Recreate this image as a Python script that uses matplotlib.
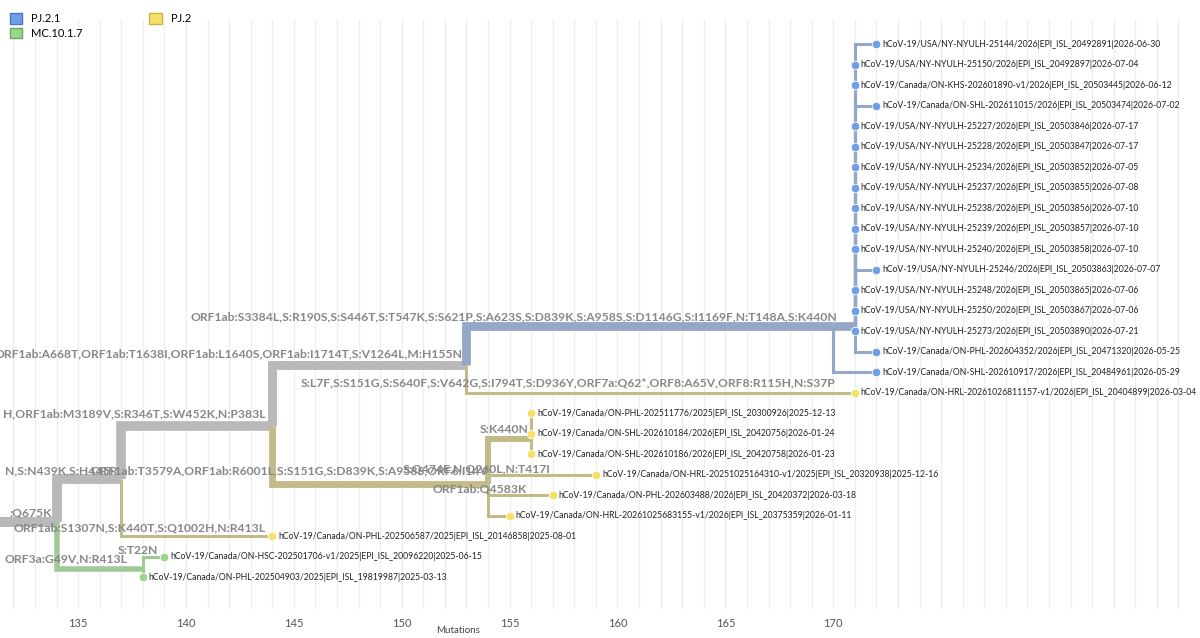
import matplotlib
matplotlib.use("Agg")
import matplotlib.pyplot as plt
from matplotlib.patches import Patch
import numpy as np

plt.rcParams['font.family'] = ['Lato', 'DejaVu Sans']

# tree nodes: name, parent, divergence, row, clade
node_names = ["root", "n134", "n137", "g138", "n144", "n153", "n154", "n156", "n170", "n171"]
node_parent = [None, "root", "n134", "n134", "n137", "n144", "n144", "n154", "n153", "n170"]
node_div = [131.0, 134, 137, 138, 144, 153, 154, 156, 170, 171]
node_row = [23.3, 23.3, 21.2, 25.6, 18.6, 15.66, 21.46, 19.27, 13.75, 13.75]
node_clade = ["base", "base", "base", "MC.10.1.7", "base", "base", "PJ.2", "PJ.2", "PJ.2.1", "PJ.2.1"]

tip_names = [
    "hCoV-19/USA/NY-NYULH-25144/2026|EPI_ISL_20492891|2026-06-30",
    "hCoV-19/USA/NY-NYULH-25150/2026|EPI_ISL_20492897|2026-07-04",
    "hCoV-19/Canada/ON-KHS-202601890-v1/2026|EPI_ISL_20503445|2026-06-12",
    "hCoV-19/Canada/ON-SHL-202611015/2026|EPI_ISL_20503474|2026-07-02",
    "hCoV-19/USA/NY-NYULH-25227/2026|EPI_ISL_20503846|2026-07-17",
    "hCoV-19/USA/NY-NYULH-25228/2026|EPI_ISL_20503847|2026-07-17",
    "hCoV-19/USA/NY-NYULH-25234/2026|EPI_ISL_20503852|2026-07-05",
    "hCoV-19/USA/NY-NYULH-25237/2026|EPI_ISL_20503855|2026-07-08",
    "hCoV-19/USA/NY-NYULH-25238/2026|EPI_ISL_20503856|2026-07-10",
    "hCoV-19/USA/NY-NYULH-25239/2026|EPI_ISL_20503857|2026-07-10",
    "hCoV-19/USA/NY-NYULH-25240/2026|EPI_ISL_20503858|2026-07-10",
    "hCoV-19/USA/NY-NYULH-25246/2026|EPI_ISL_20503863|2026-07-07",
    "hCoV-19/USA/NY-NYULH-25248/2026|EPI_ISL_20503865|2026-07-06",
    "hCoV-19/USA/NY-NYULH-25250/2026|EPI_ISL_20503867|2026-07-06",
    "hCoV-19/USA/NY-NYULH-25273/2026|EPI_ISL_20503890|2026-07-21",
    "hCoV-19/Canada/ON-PHL-202604352/2026|EPI_ISL_20471320|2026-05-25",
    "hCoV-19/Canada/ON-SHL-202610917/2026|EPI_ISL_20484961|2026-05-29",
    "hCoV-19/Canada/ON-HRL-20261026811157-v1/2026|EPI_ISL_20404899|2026-03-04",
    "hCoV-19/Canada/ON-PHL-202511776/2025|EPI_ISL_20300926|2025-12-13",
    "hCoV-19/Canada/ON-SHL-202610184/2026|EPI_ISL_20420756|2026-01-24",
    "hCoV-19/Canada/ON-SHL-202610186/2026|EPI_ISL_20420758|2026-01-23",
    "hCoV-19/Canada/ON-HRL-20251025164310-v1/2025|EPI_ISL_20320938|2025-12-16",
    "hCoV-19/Canada/ON-PHL-202603488/2026|EPI_ISL_20420372|2026-03-18",
    "hCoV-19/Canada/ON-HRL-20261025683155-v1/2026|EPI_ISL_20375359|2026-01-11",
    "hCoV-19/Canada/ON-PHL-202506587/2025|EPI_ISL_20146858|2025-08-01",
    "hCoV-19/Canada/ON-HSC-202501706-v1/2025|EPI_ISL_20096220|2025-06-15",
    "hCoV-19/Canada/ON-PHL-202504903/2025|EPI_ISL_19819987|2025-03-13",
]
tip_parent = ["n171"] * 16 + ["n170", "n153", "n156", "n156", "n156", "n154", "n154", "n154",
                               "n137", "g138", "g138"]
tip_div = [172, 171, 171, 172, 171, 171, 171, 171, 171, 171, 171, 172, 171, 171, 171, 172,
           172, 171, 156, 156, 156, 159, 157, 155, 144, 139, 138]
tip_row = list(range(27))
tip_clade = ["PJ.2.1"] * 17 + ["PJ.2"] * 8 + ["MC.10.1.7"] * 2

# mutation labels: text, right end (divergence), row
mut_text = [
    ":Q675K",
    "N,S:N439K,S:H445R",
    "H,ORF1ab:M3189V,S:R346T,S:W452K,N:P383L",
    "ORF1ab:A668T,ORF1ab:T1638I,ORF1ab:L1640S,ORF1ab:I1714T,S:V1264L,M:H155N",
    "ORF1ab:S3384L,S:R190S,S:S446T,S:T547K,S:S621P,S:A623S,S:D839K,S:A958S,S:D1146G,S:I1169F,N:T148A,S:K440N",
    "S:L7F,S:S151G,S:S640F,S:V642G,S:I794T,S:D936Y,ORF7a:Q62*,ORF8:A65V,ORF8:R115H,N:S37P",
    "ORF1ab:T3579A,ORF1ab:R6001L,S:S151G,S:D839K,S:A958S,ORF6:I14V",
    "S:K440N",
    "S:Q474E,N:Q260L,N:T417I",
    "ORF1ab:Q4583K",
    "ORF1ab:S1307N,S:K440T,S:Q1002H,N:R413L",
    "S:T22N",
    "ORF3a:G49V,N:R413L",
]
mut_x = [133.8, 136.8, 143.7, 152.8, 170.2, 170.1, 154.0, 155.9, 156.9, 155.8, 143.7, 138.7, 137.3]
mut_row = [22.85, 20.8, 18.0, 15.1, 13.3, 16.5, 20.8, 18.8, 20.7, 21.7, 23.6, 24.7, 25.1]

line_col = {"base": "#b9b9bb", "PJ.2.1": "#93a8c6", "PJ.2": "#c2bb88", "MC.10.1.7": "#9fc995"}
dot_col = {"PJ.2.1": "#6f9fe6", "PJ.2": "#f5e168", "MC.10.1.7": "#9ad68b"}

pos = {n: (x, y) for n, x, y in zip(node_names, node_div, node_row)}

# count descendant tips for line widths
ntips = {n: 0 for n in node_names}
for p in tip_parent:
    q = p
    while q is not None:
        ntips[q] += 1
        q = node_parent[node_names.index(q)]

def width(n):
    return 2.2 + 5.0 * (n / 27) ** 0.4

fig = plt.figure(figsize=(12, 6.38), dpi=100)
ax = fig.add_axes([0.0, 0.045, 1.0, 0.925])
ax.set_xlim(131.38, 187.0)
ax.set_ylim(27.55, -1.22)

for g in range(132, 187):
    ax.axvline(g, color="#eeeeee", lw=0.9, zorder=0)

def branch(px, py, cx, cy, col, lw):
    ax.plot([px, px, cx], [py, cy, cy], color=col, lw=lw, solid_capstyle="butt",
            solid_joinstyle="miter", zorder=2)

for n, p, c in zip(node_names, node_parent, node_clade):
    if p is None:
        continue
    px, py = pos[p]
    cx, cy = pos[n]
    branch(px, py, cx, cy, line_col[c], width(ntips[n]))

for name, p, x, y, c in zip(tip_names, tip_parent, tip_div, tip_row, tip_clade):
    px, py = pos[p]
    branch(px, py, x, y, line_col[c], 2.2)
    ax.scatter([x], [y], s=38, color=dot_col[c], edgecolor="white", linewidth=0.6, zorder=4)
    ax.text(x + 0.28, y, name, fontsize=6.2, va="center", ha="left", color="#222222", zorder=5)

for t, x, y in zip(mut_text, mut_x, mut_row):
    ax.text(x, y, t, fontsize=8.7, fontweight="bold", color="#878787", ha="right",
            va="center", zorder=3, clip_on=True)

ax.set_yticks([])
ax.set_xticks(np.arange(135, 171, 5))
ax.tick_params(axis="x", length=0, labelsize=8, colors="#555555", pad=6)
for s in ax.spines.values():
    s.set_visible(False)

fig.text(0.382, 0.008, "Mutations", fontsize=7, color="#444444", ha="center")

handles = [Patch(facecolor="#6f9fe6", edgecolor="#4a78c0", label="PJ.2.1"),
           Patch(facecolor="#9ad68b", edgecolor="#6aa85c", label="MC.10.1.7"),
           Patch(facecolor="#f5e168", edgecolor="#c9b53e", label="PJ.2")]
fig.legend(handles=handles, loc="upper left", bbox_to_anchor=(0.0, 0.995), ncol=2,
           frameon=False, fontsize=8, handlelength=1.1, handleheight=1.1,
           columnspacing=6, labelspacing=0.3, handletextpad=0.8)

fig.savefig("out.png", dpi=100)
